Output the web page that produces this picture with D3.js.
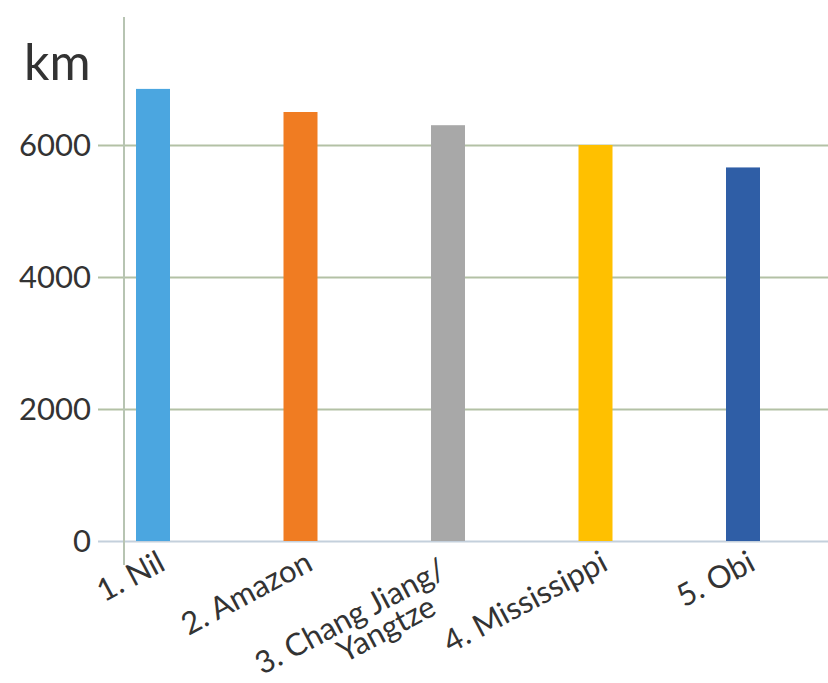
<!DOCTYPE html>
<html><head><meta charset="utf-8">
<script src="https://cdn.jsdelivr.net/npm/d3@7"></script>
<style>body{margin:0;background:#fff}svg{display:block}text{font-family:Lato,"Open Sans",sans-serif;fill:#333}</style>
</head><body>
<script>
const categories = ["1. Nil","2. Amazon","3. Chang Jiang/\nYangtze","4. Mississippi","5. Obi"];
const values = [6850, 6500, 6300, 6000, 5660];
const colors = ["#4ba6e0","#f07c22","#a8a8a8","#ffc000","#2f5ea6"];
const yTicks = [0, 2000, 4000, 6000];
const unitLabel = "km";

const W = 828, H = 683;
const svg = d3.select("body").append("svg").attr("width", W).attr("height", H);

const y = d3.scaleLinear().domain([0, 8000]).range([541, 13]);
const x = d3.scalePoint().domain(categories).range([153, 743]);
const barW = 34;

// gridlines + tick labels
const yAxis = d3.axisLeft(y).tickValues(yTicks).tickSize(0).tickPadding(7).tickFormat(d3.format("d"));
const gy = svg.append("g").attr("transform", "translate(98,0)").call(yAxis);
gy.select(".domain").remove();
gy.selectAll(".tick text").attr("font-size", 31).attr("fill", "#2b2b2b").attr("dy", "0.35em");
gy.selectAll(".tick").append("line")
  .attr("x1", 0).attr("x2", W - 98)
  .attr("stroke", d => d === 0 ? "#c4d0dc" : "#b3c1a5").attr("stroke-width", 2);

// vertical axis line
svg.append("line").attr("x1", 124).attr("x2", 124).attr("y1", 17).attr("y2", 565)
  .attr("stroke", "#b7c4b2").attr("stroke-width", 2);

// bars
svg.selectAll("rect.bar").data(values).join("rect").attr("class", "bar")
  .attr("x", (d, i) => x(categories[i]) - barW / 2)
  .attr("width", barW)
  .attr("y", d => y(d))
  .attr("height", d => y(0) - y(d))
  .attr("fill", (d, i) => colors[i]);

// unit label
svg.append("text").attr("x", 24).attr("y", 80).attr("font-size", 50).attr("fill", "#222").text(unitLabel);

// category labels
const fs = 31;
categories.forEach((c, i) => {
  const lines = c.split("\n");
  const g = svg.append("g").attr("transform", `translate(${x(c) + 14},${569}) rotate(-28)`);
  if (lines.length === 1) {
    g.append("text").attr("font-size", fs).attr("text-anchor", "end").text(lines[0]);
  } else {
    g.append("text").attr("font-size", fs).attr("text-anchor", "end").attr("x", -16).attr("y", 0).text(lines[0]);
    g.append("text").attr("font-size", fs).attr("text-anchor", "end")
      .attr("x", -42).attr("y", 28).text(lines[1]);
  }
});
</script>
</body></html>
